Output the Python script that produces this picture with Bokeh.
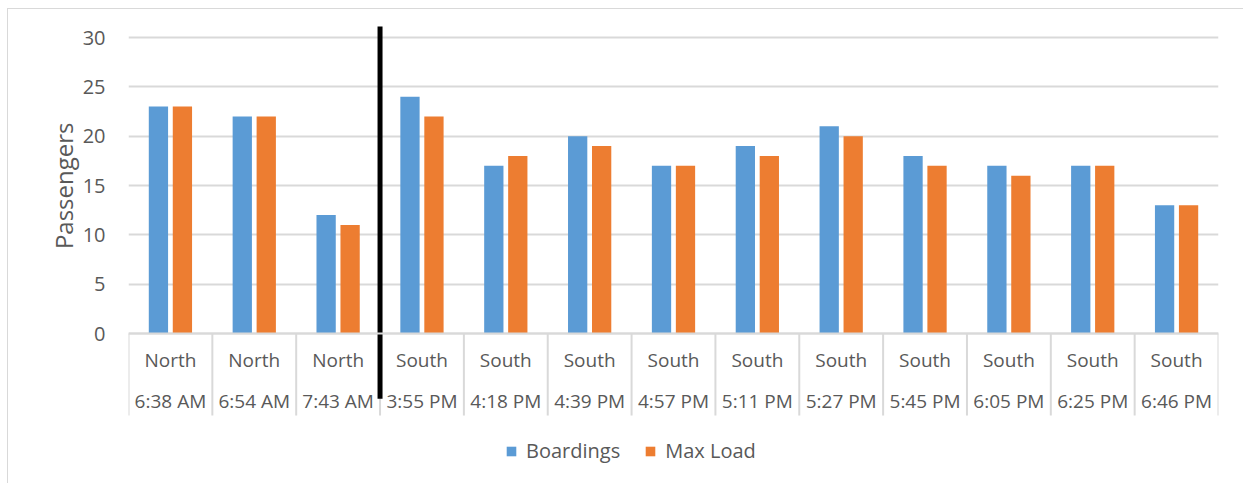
from bokeh.plotting import figure
from bokeh.models import (FactorRange, Range1d, FixedTicker, CategoricalAxis,
                          ColumnDataSource, Legend, LegendItem, Title)
from bokeh.core.properties import value
from bokeh.transform import dodge
from bokeh.embed import file_html
from bokeh.resources import INLINE

# ---- data ----
directions = ["North", "North", "North", "South", "South", "South", "South",
              "South", "South", "South", "South", "South", "South"]
times = ["6:38 AM", "6:54 AM", "7:43 AM", "3:55 PM", "4:18 PM", "4:39 PM",
         "4:57 PM", "5:11 PM", "5:27 PM", "5:45 PM", "6:05 PM", "6:25 PM", "6:46 PM"]
boardings = [23, 22, 12, 24, 17, 20, 17, 19, 21, 18, 17, 17, 13]
max_load = [23, 22, 11, 22, 18, 19, 17, 18, 20, 17, 16, 17, 13]
y_ticks = [0, 5, 10, 15, 20, 25, 30]
series_names = ["Boardings", "Max Load"]
y_title = "Passengers"

TEXT = "#595959"
GRID = "#d9d9d9"
BLUE = "#5B9BD5"
ORANGE = "#ED7D31"
FONT = "Open Sans"

src = ColumnDataSource(dict(times=times, dirs=directions, boardings=boardings,
                            max_load=max_load, label_y=[-2.68] * len(times)))

p = figure(width=1236, height=475,
           x_range=FactorRange(factors=times, range_padding=0),
           y_range=Range1d(-15.30, 31.115),
           output_backend="svg", toolbar_location=None,
           min_border_left=120, min_border_right=26, min_border_top=17, min_border_bottom=0,
           margin=(8, 0, 0, 7))
p.styles = {"border-left": "1px solid #d9d9d9", "border-top": "1px solid #d9d9d9"}
p.outline_line_color = None
p.background_fill_color = "white"
p.border_fill_color = "white"

# bars
r1 = p.vbar(x=dodge("times", -0.143, range=p.x_range), top="boardings", bottom=0, width=0.23,
            source=src, fill_color=BLUE, line_color=None)
r2 = p.vbar(x=dodge("times", 0.143, range=p.x_range), top="max_load", bottom=0, width=0.23,
            source=src, fill_color=ORANGE, line_color=None)

# category separators below the axis
bounds = [(t, -0.5) for t in times] + [(times[-1], 0.5)]
p.segment(x0=bounds, y0=[0] * len(bounds), x1=bounds, y1=[-8.31] * len(bounds),
          line_color=GRID, line_width=2)

# direction row of the category axis
p.text(x="times", y="label_y", text="dirs", source=src, text_align="center",
       text_baseline="middle", text_font=value(FONT), text_font_size="19px",
       text_color=TEXT)

# black divider between North and South trips
split = directions.index("South")
p.segment(x0=[(times[split], -0.5)], y0=[31.2], x1=[(times[split], -0.5)], y1=[-6.6],
          line_color="black", line_width=5)

# y axis
p.yaxis.ticker = FixedTicker(ticks=y_ticks)
p.yaxis.axis_line_color = None
p.yaxis.major_tick_line_color = None
p.yaxis.major_tick_out = 0
p.yaxis.minor_tick_line_color = None
p.yaxis.major_label_text_font = FONT
p.yaxis.major_label_text_font_size = "20px"
p.yaxis.major_label_text_color = TEXT
p.yaxis.major_label_standoff = 23
p.ygrid.grid_line_color = GRID
p.ygrid.grid_line_width = 2
p.xgrid.visible = False

ytitle = Title(text=y_title, align="right", offset=96, text_font=FONT,
               text_font_size="24px", text_font_style="normal", text_color=TEXT,
               standoff=0)
p.add_layout(ytitle, "left")

# x axis: time row
xa = p.xaxis[0]
xa.fixed_location = 0
xa.axis_line_color = GRID
xa.axis_line_width = 2
xa.major_tick_line_color = None
xa.major_tick_out = 0
xa.major_label_text_font = FONT
xa.major_label_text_font_size = "19px"
xa.major_label_text_color = TEXT
xa.major_label_standoff = 54

legend = Legend(items=[LegendItem(label=series_names[0], renderers=[r1]),
                       LegendItem(label=series_names[1], renderers=[r2])],
                orientation="horizontal", location=(377, 20),
                padding=0, margin=0, spacing=24, border_line_color=None,
                background_fill_alpha=0, glyph_width=12, glyph_height=12,
                label_standoff=9, label_text_font=FONT, label_text_font_size="20px",
                label_text_color=TEXT)
p.add_layout(legend)

open("out.html", "w").write(file_html(p, INLINE))
